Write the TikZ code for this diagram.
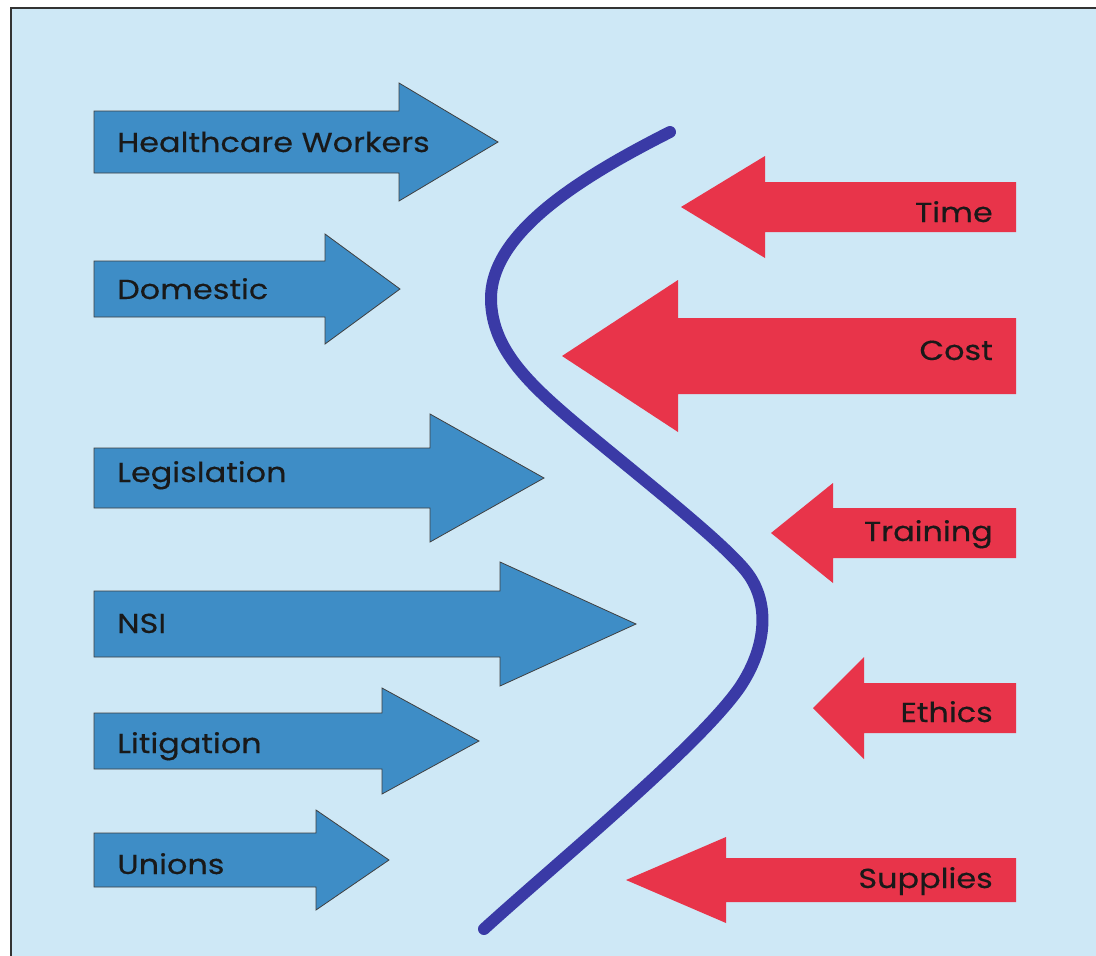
\documentclass[tikz,border=0pt]{standalone}
\usepackage{fontspec}
\setmainfont{Poppins}[FakeStretch=1.16, FakeBold=0.35]
\definecolor{bgblue}{RGB}{206,232,246}
\definecolor{arrblue}{RGB}{62,141,198}
\definecolor{arrred}{RGB}{232,52,74}
\definecolor{curveblue}{RGB}{58,58,166}
\tikzset{
  bluearrow/.style={fill=arrblue, draw=black!75, line width=0.8pt, line join=miter},
  redarrow/.style={fill=arrred, draw=none},
  lbl/.style={inner sep=0pt, font=\fontsize{27.5}{32}\selectfont, text=black!90},
  borderline/.style={draw=black!80, line width=2pt},
  forceline/.style={draw=curveblue, line width=12pt, line cap=round, line join=round}
}
% right-pointing arrow: x0, yc, half shaft, head x, half head, tip x
\newcommand\ffRight[6]{\path[bluearrow] (#1,#2-#3) -- (#4,#2-#3) -- (#4,#2-#5) -- (#6,#2) -- (#4,#2+#5) -- (#4,#2+#3) -- (#1,#2+#3) -- cycle;}
% left-pointing arrow: x right, yc, half shaft, head x, half head, tip x
\newcommand\ffLeft[6]{\path[redarrow] (#1,#2-#3) -- (#4,#2-#3) -- (#4,#2-#5) -- (#6,#2) -- (#4,#2+#5) -- (#4,#2+#3) -- (#1,#2+#3) -- cycle;}
\begin{document}
\begin{tikzpicture}[x=1pt,y=-1pt]
\useasboundingbox (0,0) rectangle (1096,956);
\fill[white] (0,0) rectangle (1096,956);
\fill[bgblue] (11,8) rectangle (1096,956);
\draw[borderline] (11,956) -- (11,8) -- (1096,8);

% driving forces
\ffRight{94}{142}{31}{399}{59}{498}
\ffRight{94}{289}{28}{325}{55}{400}
\ffRight{94}{478}{30}{430}{64}{544}
\ffRight{94}{624}{33}{500}{62}{636}
\ffRight{94}{741}{28}{382}{53}{479}
\ffRight{94}{860}{27}{316}{50}{389}

% restraining forces
\ffLeft{1016}{207}{25}{765}{51}{681}
\ffLeft{1016}{356}{38}{678}{76}{562}
\ffLeft{1016}{533}{25}{833}{50}{771}
\ffLeft{1016}{708}{25}{864}{51}{813}
\ffLeft{1016}{880}{22}{726}{43}{626}

% the curve
\draw[forceline] (670,132) .. controls (575,180) and (490,235) .. (491,300)
  .. controls (492,350) and (530,385) .. (580,427)
  .. controls (650,485) and (720,540) .. (745,570)
  .. controls (770,600) and (768,645) .. (740,687)
  .. controls (700,745) and (560,860) .. (484,929);

% labels
\node[lbl, anchor=base west] (hw)  at (117,152) {Healthcare Workers};
\node[lbl, anchor=base west] (dom) at (117,299) {Domestic};
\node[lbl, anchor=base west] (leg) at (117,482) {Legislation};
\node[lbl, anchor=base west] (nsi) at (117,633) {NSI};
\node[lbl, anchor=base west] (lit) at (117,753) {Litigation};
\node[lbl, anchor=base west] (uni) at (117,874) {Unions};

\node[lbl, anchor=base east] (time) at (993,222) {Time};
\node[lbl, anchor=base east] (cost) at (993,360) {Cost};
\node[lbl, anchor=base east] (trn)  at (993,541) {Training};
\node[lbl, anchor=base east] (eth)  at (993,722) {Ethics};
\node[lbl, anchor=base east] (sup)  at (993,888) {Supplies};
\end{tikzpicture}
\end{document}
